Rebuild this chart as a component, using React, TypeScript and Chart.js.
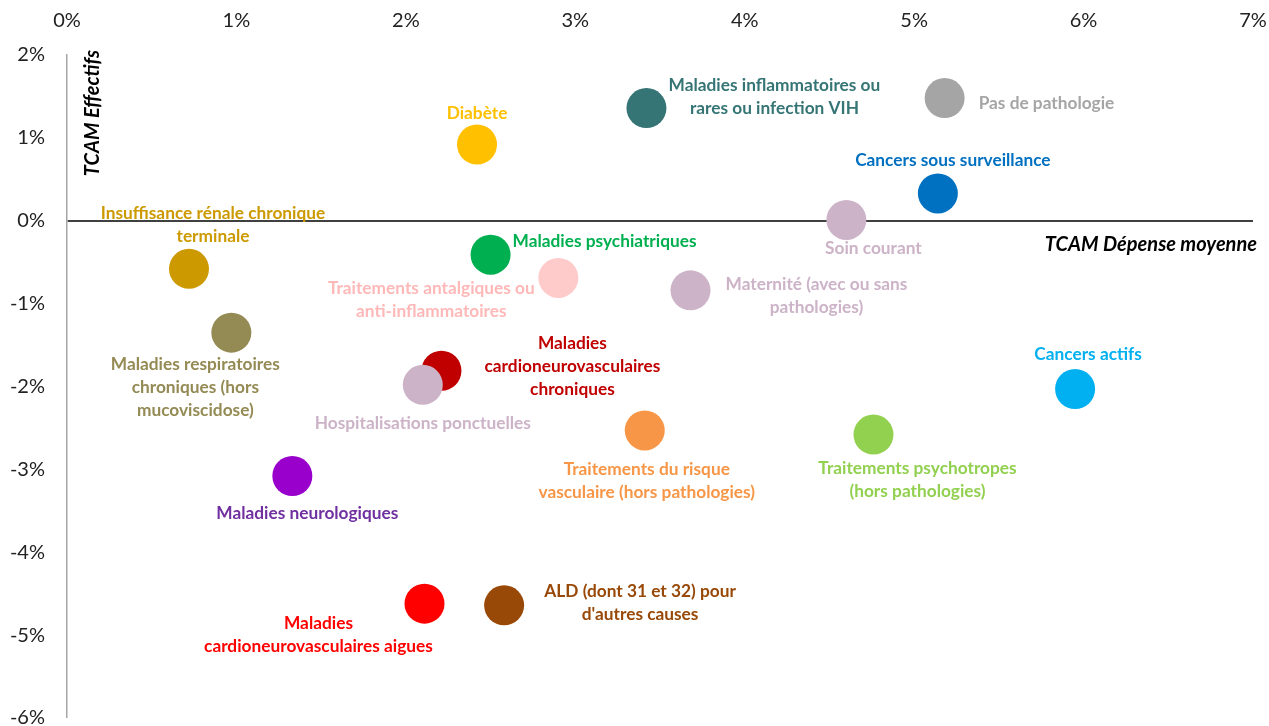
import React, { useEffect, useRef } from "react";
import { Chart, registerables } from "chart.js";

Chart.register(...registerables);

// ---- Data ----
const categories: string[] = [
  "Pas de pathologie",
  "Maladies inflammatoires ou\nrares ou infection VIH",
  "Diabète",
  "Cancers sous surveillance",
  "Soin courant",
  "Maladies psychiatriques",
  "Insuffisance rénale chronique\nterminale",
  "Traitements antalgiques ou\nanti-inflammatoires",
  "Maternité (avec ou sans\npathologies)",
  "Maladies respiratoires\nchroniques (hors\nmucoviscidose)",
  "Maladies\ncardioneurovasculaires\nchroniques",
  "Hospitalisations ponctuelles",
  "Cancers actifs",
  "Traitements du risque\nvasculaire (hors pathologies)",
  "Traitements psychotropes\n(hors pathologies)",
  "Maladies neurologiques",
  "Maladies\ncardioneurovasculaires aigues",
  "ALD (dont 31 et 32) pour\nd'autres causes",
];

// TCAM Dépense moyenne (%)
const depenseMoyenne: number[] = [
  5.18, 3.42, 2.42, 5.14, 4.6, 2.5, 0.72, 2.9, 3.68, 0.97, 2.21, 2.1, 5.95, 3.41, 4.76, 1.33, 2.11, 2.58,
];
// TCAM Effectifs (%)
const effectifs: number[] = [
  1.48, 1.36, 0.92, 0.33, 0.01, -0.41, -0.58, -0.69, -0.84, -1.35, -1.81, -1.98, -2.03, -2.53, -2.58, -3.08, -4.62,
  -4.64,
];

const xTicks: number[] = [0, 1, 2, 3, 4, 5, 6, 7];
const yTicks: number[] = [-6, -5, -4, -3, -2, -1, 0, 1, 2];

// ---- Styles ----
const pointColors: string[] = [
  "#a5a5a5", "#367575", "#ffc000", "#0070c0", "#ccb3c7", "#00b050", "#cc9a00", "#ffcaca", "#ccb3c7",
  "#948a54", "#c00000", "#ccb3c7", "#00b0f0", "#f79646", "#92d050", "#9900cc", "#ff0000", "#984807",
];
const labelColors: string[] = [
  "#a5a5a5", "#367575", "#ffc000", "#0070c0", "#ccb3c7", "#00b050", "#cc9a00", "#ffb8b8", "#ccb3c7",
  "#948a54", "#c00000", "#ccb3c7", "#00b0f0", "#f79646", "#92d050", "#7030a0", "#ff0000", "#984807",
];
// label offsets in px relative to point: [dx, dy of first line center, align]
const labelOffsets: [number, number, CanvasTextAlign][] = [
  [34, 5, "left"],
  [128, -23, "center"],
  [0, -31, "center"],
  [15, -33, "center"],
  [27, 29, "center"],
  [22, -13, "left"],
  [24, -55, "center"],
  [-127, 10, "center"],
  [126, -6, "center"],
  [-36, 32, "center"],
  [131, -27, "center"],
  [0, 39, "center"],
  [13, -35, "center"],
  [2, 39, "center"],
  [44, 34, "center"],
  [15, 37, "center"],
  [-106, 20, "center"],
  [136, -14, "center"],
];

const FONT = "Lato, 'Open Sans', sans-serif";

const labelPlugin = {
  id: "pointLabels",
  afterDatasetsDraw(chart: any) {
    const ctx = chart.ctx as CanvasRenderingContext2D;
    const meta = chart.getDatasetMeta(0);
    ctx.save();
    ctx.font = `bold 17.3px ${FONT}`;
    ctx.textBaseline = "middle";
    meta.data.forEach((el: any, i: number) => {
      const [dx, dy, align] = labelOffsets[i];
      ctx.fillStyle = labelColors[i];
      ctx.textAlign = align;
      categories[i].split("\n").forEach((line, j) => {
        ctx.fillText(line, el.x + dx, el.y + dy + j * 23);
      });
    });
    // axis titles
    const area = chart.chartArea;
    ctx.fillStyle = "#000";
    ctx.font = `italic bold 20px ${FONT}`;
    ctx.textAlign = "right";
    ctx.fillText("TCAM Dépense moyenne", area.right + 4, chart.scales.y.getPixelForValue(0) + 24);
    ctx.translate(area.left + 26, area.top + 58);
    ctx.rotate(-Math.PI / 2);
    ctx.textAlign = "center";
    ctx.fillText("TCAM Effectifs", 0, 0);
    ctx.restore();
  },
};

export default function App() {
  const ref = useRef<HTMLCanvasElement | null>(null);
  useEffect(() => {
    if (!ref.current) return;
    const chart = new Chart(ref.current, {
      type: "scatter",
      data: {
        datasets: [
          {
            data: depenseMoyenne.map((x, i) => ({ x, y: effectifs[i] })),
            pointBackgroundColor: pointColors,
            pointBorderWidth: 0,
            pointRadius: 20,
            pointHoverRadius: 20,
          },
        ],
      },
      options: {
        responsive: false,
        animation: false,
        events: [],
        layout: { autoPadding: false, padding: { right: 16, bottom: 8, left: 0, top: 0 } },
        plugins: { legend: { display: false }, tooltip: { enabled: false } },
        scales: {
          x: {
            type: "linear",
            position: "top",
            min: 0,
            max: 7,
            afterBuildTicks: (s: any) => {
              s.ticks = xTicks.map((v) => ({ value: v }));
            },
            afterFit: (s: any) => {
              s.height = 55;
              s.paddingLeft = 0;
              s.paddingRight = 0;
            },
            grid: { display: false, drawTicks: false },
            border: { display: false },
            ticks: {
              padding: 22,
              color: "#222",
              font: { family: FONT, size: 20 },
              callback: (v: any) => `${v}%`,
            },
          },
          y: {
            type: "linear",
            min: -6,
            max: 2,
            afterBuildTicks: (s: any) => {
              s.ticks = yTicks.map((v) => ({ value: v }));
            },
            afterFit: (s: any) => {
              s.width = 67;
              s.paddingTop = 0;
              s.paddingBottom = 0;
            },
            grid: {
              drawTicks: false,
              color: (c: any) => (c.tick && c.tick.value === 0 ? "#404040" : "rgba(0,0,0,0)"),
              lineWidth: (c: any) => (c.tick && c.tick.value === 0 ? 2 : 0),
            },
            border: { display: true, color: "#a6a6a6", width: 1.5 },
            ticks: {
              padding: 22,
              color: "#222",
              font: { family: FONT, size: 20 },
              callback: (v: any) => `${v}%`,
            },
          },
        },
      },
      plugins: [labelPlugin],
    });
    return () => chart.destroy();
  }, []);
  return (
    <div style={{ position: "absolute", left: 0, top: 0, width: 1269, height: 726, background: "#fff" }}>
      <canvas ref={ref} width={1269} height={726} />
    </div>
  );
}
